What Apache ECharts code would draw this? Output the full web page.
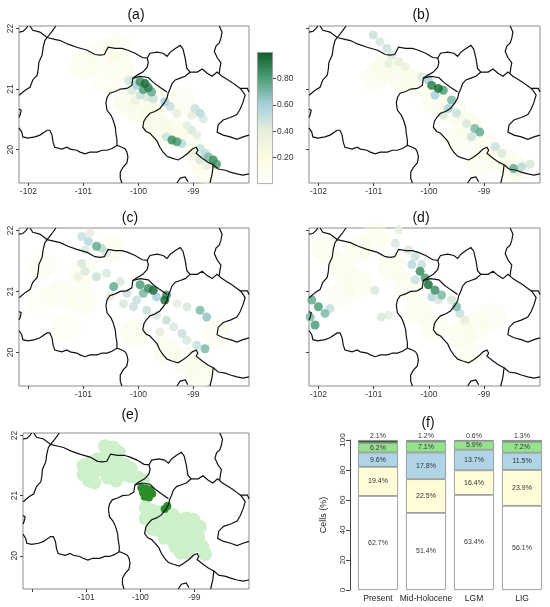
<!DOCTYPE html>
<html>
<head>
<meta charset="utf-8">
<script src="https://cdn.jsdelivr.net/npm/echarts@6/dist/echarts.min.js"></script>
<style>
html, body { margin: 0; padding: 0; background: #fff; }
#main { width: 550px; height: 607px; }
</style>
</head>
<body>
<div id="main"></div>
<script>
// state borders, [lon, lat]
var bndA = [[-102.17,21.94],[-102.10,21.95],[-102.04,22.00],[-102.01,22.04]];
var bndB = [[-101.97,22.04],[-101.92,21.97],[-101.79,21.94],[-101.66,21.85],[-101.57,21.95],[-101.50,22.04]];
var bndC = [[-101.66,21.85],[-101.70,21.80],[-101.73,21.69],[-101.75,21.56],[-101.81,21.44],[-101.82,21.33],[-101.84,21.23],[-101.92,21.15],[-101.97,21.03],[-102.06,20.98],[-102.15,20.91],[-102.17,20.90]];
var bndD = [[-102.17,20.67],[-102.13,20.65],[-102.15,20.57],[-102.17,20.53]];
var bndE = [[-101.66,21.85],[-101.52,21.82],[-101.42,21.80],[-101.28,21.74],[-101.12,21.69],[-100.93,21.64],[-100.79,21.57],[-100.70,21.56],[-100.62,21.57],[-100.55,21.69],[-100.42,21.67],[-100.30,21.67],[-100.19,21.64],[-100.06,21.59],[-99.93,21.52],[-99.84,21.51],[-99.79,21.59],[-99.66,21.61],[-99.55,21.59],[-99.48,21.54],[-99.42,21.61],[-99.33,21.67],[-99.24,21.72],[-99.19,21.66],[-99.15,21.51],[-99.12,21.34],[-99.06,21.28],[-98.93,21.28],[-98.84,21.33],[-98.75,21.26],[-98.66,21.21],[-98.57,21.28],[-98.48,21.21],[-98.39,21.16],[-98.30,21.11],[-98.21,21.05],[-98.15,21.01],[-98.02,21.01],[-97.99,20.95]];
var bndF = [[-102.17,20.36],[-102.12,20.29],[-102.10,20.21],[-102.01,20.19],[-101.88,20.21],[-101.79,20.24],[-101.66,20.32],[-101.61,20.32],[-101.57,20.24],[-101.55,20.12],[-101.52,20.04],[-101.39,20.01],[-101.30,20.04],[-101.24,20.01],[-101.12,19.99],[-101.06,19.96],[-100.97,19.93],[-100.88,19.96],[-100.75,19.96],[-100.66,19.99],[-100.57,19.99],[-100.48,20.02],[-100.39,20.07]];
var bndG = [[-99.84,21.51],[-99.82,21.44],[-99.84,21.36],[-99.92,21.28],[-100.02,21.23],[-100.10,21.18],[-100.12,21.06],[-100.21,21.01],[-100.33,21.00],[-100.42,20.96],[-100.52,20.93],[-100.57,20.86],[-100.59,20.77],[-100.57,20.65],[-100.50,20.57],[-100.46,20.49],[-100.42,20.37],[-100.41,20.27],[-100.39,20.16],[-100.39,20.07],[-100.30,20.04],[-100.24,20.01],[-100.21,19.96],[-100.19,19.88],[-100.21,19.78],[-100.28,19.71],[-100.33,19.63],[-100.33,19.53],[-100.30,19.45]];
var bndX = [[-100.10,21.18],[-99.97,21.21],[-99.82,21.19],[-99.73,21.11],[-99.61,21.03],[-99.48,20.95]];
var bndH = [[-99.06,21.28],[-99.15,21.21],[-99.24,21.18],[-99.33,21.15],[-99.39,21.09],[-99.42,21.01],[-99.46,20.93],[-99.48,20.85],[-99.53,20.77],[-99.61,20.68],[-99.70,20.63],[-99.79,20.60],[-99.86,20.53],[-99.90,20.47],[-99.92,20.37],[-99.86,20.30],[-99.79,20.27],[-99.73,20.21],[-99.66,20.14],[-99.61,20.04],[-99.55,19.96],[-99.48,19.89],[-99.39,19.86],[-99.28,19.83],[-99.19,19.88],[-99.10,19.94],[-99.02,20.01],[-98.95,20.04],[-98.92,19.99],[-98.95,19.94],[-98.84,19.86],[-98.73,19.79],[-98.64,19.75],[-98.55,19.68],[-98.42,19.66],[-98.33,19.63],[-98.21,19.60],[-98.10,19.58],[-97.99,19.60]];
var bndI = [[-98.15,21.01],[-98.12,20.98],[-98.06,20.90],[-98.10,20.78],[-98.15,20.67],[-98.21,20.58],[-98.33,20.53],[-98.46,20.49],[-98.55,20.41],[-98.57,20.29],[-98.46,20.24],[-98.33,20.21],[-98.21,20.17],[-98.10,20.21],[-97.99,20.24]];
var bndJ = [[-98.53,22.04],[-98.48,21.94],[-98.50,21.84],[-98.53,21.76],[-98.59,21.71],[-98.62,21.62],[-98.57,21.52],[-98.50,21.43],[-98.52,21.34],[-98.53,21.26]];
var bndK = [[-99.30,19.45],[-99.24,19.53],[-99.15,19.55],[-99.10,19.47]];
var bndL = [[-98.64,19.75],[-98.66,19.60],[-98.70,19.45]];
var borders = [bndA, bndB, bndC, bndD, bndE, bndF, bndG, bndX, bndH, bndI, bndJ, bndK, bndL];

// suitability, [lon, lat, value]
var hazeA = [[-101.0,21.39,0.2],[-100.70,21.58,0.18],[-100.39,21.69,0.18],[-100.33,21.36,0.2],[-100.58,21.14,0.15],[-100.21,20.81,0.22],[-99.97,20.65,0.22],[-99.73,20.54,0.22],[-99.61,20.32,0.22],[-99.36,20.27,0.22],[-99.12,20.16,0.22],[-98.88,19.88,0.22],[-98.76,19.66,0.2],[-99.67,20.81,0.2],[-99.24,20.81,0.18]];
var patchA = [[-99.97,21.12,0.85],[-99.88,21.09,0.95],[-99.82,21.02,0.9],[-99.91,20.99,0.8],[-99.76,20.95,0.75],[-100.03,21.06,0.6],[-100.09,21.14,0.5],[-100.18,21.14,0.45],[-100.12,20.98,0.45],[-99.97,20.90,0.5],[-99.85,20.87,0.45],[-99.73,20.84,0.5],[-100.06,20.81,0.35],[-99.52,20.79,0.6],[-99.42,20.71,0.5],[-99.30,20.60,0.4],[-98.97,20.68,0.5],[-98.88,20.60,0.55],[-98.82,20.51,0.45],[-99.03,20.57,0.4],[-99.12,20.40,0.4],[-99.03,20.32,0.45],[-98.94,20.24,0.4],[-99.39,20.16,0.85],[-99.30,20.13,0.8],[-99.21,20.10,0.55],[-99.49,20.21,0.5],[-98.88,20.02,0.5],[-98.79,19.94,0.55],[-98.73,19.88,0.7],[-98.64,19.83,0.85],[-98.58,19.76,0.8],[-98.88,19.83,0.45],[-98.76,19.74,0.4],[-99.03,19.94,0.35]];

var hazeB = [[-100.79,21.37,0.22],[-100.49,21.20,0.22],[-100.25,21.09,0.2],[-100.98,21.20,0.18],[-99.89,20.82,0.22],[-99.59,20.65,0.22],[-99.29,20.38,0.22],[-98.99,20.05,0.22],[-98.68,19.83,0.22],[-98.44,19.72,0.2],[-99.47,20.16,0.18],[-99.11,19.77,0.18]];
var patchB = [[-101.01,21.89,0.5],[-100.89,21.78,0.45],[-100.76,21.67,0.5],[-100.67,21.56,0.45],[-100.73,21.42,0.4],[-100.55,21.45,0.4],[-100.43,21.37,0.35],[-99.95,21.06,0.9],[-99.83,21.01,0.95],[-99.74,20.98,0.8],[-100.01,21.15,0.6],[-99.89,20.90,0.6],[-100.13,21.20,0.45],[-99.59,20.82,0.7],[-99.65,20.68,0.6],[-99.50,20.60,0.5],[-99.74,20.57,0.45],[-99.32,20.43,0.45],[-99.17,20.35,0.7],[-99.08,20.29,0.75],[-99.23,20.21,0.5],[-98.80,20.05,0.5],[-98.68,19.94,0.45],[-98.47,19.69,0.75],[-98.32,19.72,0.55],[-98.17,19.76,0.45],[-98.38,19.63,0.4]];

var hazeC = [[-101.73,21.41,0.18],[-101.42,20.97,0.18],[-101.0,20.86,0.2],[-100.09,20.31,0.22],[-99.49,20.03,0.22],[-99.12,19.87,0.22],[-98.88,19.65,0.22],[-98.58,20.31,0.18],[-101.30,20.42,0.15],[-101.79,20.86,0.15],[-101.0,21.30,0.2],[-100.52,21.68,0.2]];
var patchC = [[-101.03,21.90,0.5],[-100.91,21.82,0.55],[-100.76,21.74,0.75],[-100.67,21.71,0.55],[-100.97,21.68,0.45],[-100.58,21.63,0.45],[-100.88,21.96,0.4],[-101.03,21.46,0.45],[-100.97,21.33,0.45],[-100.76,21.24,0.5],[-100.58,21.30,0.45],[-100.45,21.08,0.75],[-100.33,21.16,0.45],[-100.21,20.97,0.5],[-100.52,20.91,0.4],[-100.27,20.80,0.45],[-100.09,20.75,0.5],[-101.09,21.24,0.35],[-99.97,21.11,0.8],[-99.82,21.05,0.85],[-99.73,21.02,0.95],[-99.91,20.97,0.7],[-99.67,20.91,0.6],[-99.52,20.86,0.95],[-99.49,20.94,0.85],[-100.03,20.86,0.5],[-99.85,20.69,0.5],[-99.67,20.61,0.45],[-99.49,20.53,0.5],[-99.36,20.42,0.45],[-99.21,20.31,0.5],[-99.12,20.20,0.45],[-98.94,20.12,0.5],[-98.79,20.06,0.7],[-98.88,20.69,0.7],[-98.76,20.58,0.65],[-99.12,20.75,0.45],[-99.30,20.80,0.4],[-99.61,20.34,0.4]];

var hazeD = [[-101.88,21.68,0.2],[-101.58,21.41,0.2],[-101.28,21.68,0.2],[-100.98,21.90,0.2],[-101.28,21.13,0.2],[-101.58,20.97,0.18],[-100.19,20.69,0.2],[-99.89,20.42,0.2],[-99.41,20.31,0.2],[-99.17,20.42,0.2],[-98.86,20.58,0.18],[-99.29,19.98,0.18],[-100.37,21.08,0.22],[-100.67,21.41,0.22]];
var patchD = [[-100.55,22.01,0.4],[-100.61,21.79,0.45],[-100.37,21.68,0.45],[-100.25,21.57,0.5],[-100.31,21.44,0.55],[-100.13,21.44,0.5],[-100.16,21.33,0.85],[-100.07,21.22,0.8],[-100.01,21.11,0.95],[-99.89,21.02,0.85],[-99.77,20.94,0.7],[-99.95,20.91,0.55],[-99.83,20.86,0.45],[-100.25,21.19,0.5],[-100.98,21.02,0.45],[-102.12,20.86,0.75],[-102.0,20.75,0.8],[-101.88,20.64,0.7],[-102.06,20.45,0.8],[-102.15,20.58,0.7],[-101.79,20.72,0.5],[-100.86,20.58,0.45],[-100.73,20.61,0.4],[-99.50,20.75,0.7],[-99.44,20.64,0.5],[-99.35,20.53,0.4],[-99.59,20.86,0.45]];

// consensus map (e), [lon, lat]
var lightE = [[-100.65,21.82],[-100.50,21.80],[-100.40,21.72],
    [-101.05,21.50],[-100.92,21.55],[-100.80,21.60],[-100.68,21.62],[-100.55,21.62],[-100.42,21.58],[-100.30,21.52],[-100.18,21.45],
    [-101.05,21.35],[-100.92,21.40],[-100.80,21.42],[-100.68,21.45],[-100.55,21.45],[-100.42,21.40],[-100.30,21.35],[-100.18,21.32],[-100.05,21.30],[-99.95,21.25],
    [-100.95,21.25],[-100.85,21.22],[-100.60,21.30],[-100.45,21.25],
    [-99.90,20.80],[-99.78,20.75],[-99.65,20.72],[-99.52,20.70],[-99.40,20.68],
    [-99.90,20.62],[-99.78,20.58],[-99.65,20.55],[-99.52,20.55],[-99.40,20.55],[-99.28,20.60],[-99.15,20.62],[-99.02,20.60],
    [-99.78,20.45],[-99.65,20.42],[-99.52,20.42],[-99.40,20.40],[-99.28,20.40],[-99.15,20.42],[-99.02,20.45],[-98.90,20.48],
    [-99.55,20.30],[-99.42,20.28],[-99.30,20.28],[-99.18,20.28],[-99.05,20.30],[-98.93,20.32],
    [-99.35,20.15],[-99.22,20.15],[-99.10,20.15],[-98.98,20.18],[-98.85,20.15],
    [-99.25,20.05],[-99.12,20.05],[-98.80,20.03]];
var darkE = [[-99.98,21.13],[-99.90,21.12],[-99.82,21.10],[-99.95,21.05],[-99.87,21.04],[-99.78,21.03],[-99.92,20.98],[-99.84,20.97],[-99.55,20.78],[-99.50,20.83]];

// bar chart (f)
var periods = ['Present', 'Mid-Holocene', 'LGM', 'LIG'];
var cellsLow = [62.7, 51.4, 63.4, 56.1];
var cellsMid = [19.4, 22.5, 16.4, 23.9];
var cellsHigh = [9.6, 17.8, 13.7, 11.5];
var cellsVeryHigh = [6.2, 7.1, 5.9, 7.2];
var cellsTop = [2.1, 1.2, 0.6, 1.3];

var lonTicks = [-102, -101, -100, -99];
var lonTicksShort = [-101, -100, -99];
var latTicks = [20, 21, 22];
var scaleTicks = [0.2, 0.4, 0.6, 0.8];
var scaleBar = [1];

var lonMin = -102.17, lonMax = -97.99, latMin = 19.45, latMax = 22.04;
var scaleColors = ['#ffffff', '#fbfbe2', '#e7efdc', '#a9d0dc', '#4d9f76', '#0c5e27'];
var font = 'Liberation Sans, Arial, sans-serif';

var panels = [
    { label: '(a)', grid: { left: 19, top: 26, width: 230, height: 157 }, tx: 136, ty: 15, lon: lonTicks, lat: true, haze: hazeA, patch: patchA },
    { label: '(b)', grid: { left: 309, top: 26, width: 231, height: 157 }, tx: 421, ty: 15, lon: lonTicks, lat: false, haze: hazeB, patch: patchB },
    { label: '(c)', grid: { left: 19, top: 228, width: 230, height: 158 }, tx: 130, ty: 218, lon: lonTicksShort, lat: true, haze: hazeC, patch: patchC },
    { label: '(d)', grid: { left: 309, top: 228, width: 231, height: 158 }, tx: 421, ty: 218, lon: lonTicks, lat: false, haze: hazeD, patch: patchD },
    { label: '(e)', grid: { left: 23, top: 433, width: 226, height: 156 }, tx: 130, ty: 415, lon: lonTicksShort, lat: true }
];

var grids = [], xAxes = [], yAxes = [], series = [], graphics = [], mappedSeries = [];

panels.forEach(function (p, i) {
    grids.push(Object.assign({ show: true, borderColor: '#8c8c8c', borderWidth: 1, backgroundColor: '#fff' }, p.grid));
    xAxes.push({
        gridIndex: i, type: 'value', min: lonMin, max: lonMax,
        axisLine: { show: false }, splitLine: { show: false },
        axisTick: { show: true, customValues: lonTicks, length: 3, lineStyle: { color: '#444' } },
        axisLabel: { customValues: p.lon, fontSize: 8.5, color: '#333', margin: 4, fontFamily: font }
    });
    yAxes.push({
        gridIndex: i, type: 'value', min: latMin, max: latMax,
        axisLine: { show: false }, splitLine: { show: false },
        axisTick: { show: true, customValues: latTicks, length: 3, lineStyle: { color: '#444' } },
        axisLabel: { show: p.lat, customValues: latTicks, rotate: 90, fontSize: 8.5, color: '#333', margin: 4, fontFamily: font }
    });
    graphics.push({ type: 'text', x: p.tx, y: p.ty, style: { text: p.label, fontSize: 14, fontFamily: font, fill: '#111', textAlign: 'center', textVerticalAlign: 'middle' } });

    if (p.haze) {
        mappedSeries.push(series.length);
        series.push({ type: 'scatter', xAxisIndex: i, yAxisIndex: i, data: p.haze, symbolSize: 28, itemStyle: { opacity: 0.45 }, silent: true, z: 1 });
        mappedSeries.push(series.length);
        series.push({
            type: 'scatter', xAxisIndex: i, yAxisIndex: i, silent: true, z: 2,
            data: p.patch.slice().sort(function (a, b) { return a[2] - b[2]; }),
            symbolSize: 9, itemStyle: { opacity: 0.85 }
        });
    } else {
        series.push({ type: 'scatter', xAxisIndex: i, yAxisIndex: i, data: lightE, symbolSize: 14, silent: true, z: 1, itemStyle: { color: '#cdf0ca', opacity: 1 } });
        series.push({ type: 'scatter', xAxisIndex: i, yAxisIndex: i, data: darkE, symbolSize: 8, silent: true, z: 2, itemStyle: { color: '#2a8d2a', opacity: 1 } });
    }

    series.push({
        type: 'lines', coordinateSystem: 'cartesian2d', xAxisIndex: i, yAxisIndex: i,
        polyline: true, silent: true, z: 5,
        lineStyle: { color: '#111', width: 1.2, opacity: 1 },
        data: borders.map(function (b) { return { coords: b }; })
    });
});

// colour scale of panel (a)
grids.push({ left: 257, top: 52, width: 16, height: 132 });
xAxes.push({ gridIndex: 5, type: 'category', data: [''], show: false });
yAxes.push({
    gridIndex: 5, type: 'value', position: 'right', min: 0, max: 1,
    axisLine: { show: false }, splitLine: { show: false },
    axisTick: { show: true, customValues: scaleTicks, length: 3, lineStyle: { color: '#444' } },
    axisLabel: { customValues: scaleTicks, fontSize: 8.5, color: '#333', margin: 4, fontFamily: font, formatter: function (v) { return v.toFixed(2); } }
});
series.push({
    type: 'bar', xAxisIndex: 5, yAxisIndex: 5, data: scaleBar, barWidth: '100%', silent: true,
    itemStyle: {
        borderColor: '#9a9a9a', borderWidth: 0.8,
        color: { type: 'linear', x: 0, y: 1, x2: 0, y2: 0, colorStops: scaleColors.map(function (c, k) { return { offset: k / (scaleColors.length - 1), color: c }; }) }
    }
});

// panel (f)
grids.push({ left: 354, top: 440, width: 192, height: 150 });
xAxes.push({
    gridIndex: 6, type: 'category', data: periods,
    axisLine: { show: false }, axisTick: { show: false },
    axisLabel: { interval: 0, fontSize: 8.5, color: '#222', margin: 4, fontFamily: font }
});
yAxes.push({
    gridIndex: 6, type: 'value', min: 0, max: 100, interval: 20, offset: 4,
    axisLine: { show: true, lineStyle: { color: '#444' } }, splitLine: { show: false },
    axisTick: { show: true, length: 4, lineStyle: { color: '#444' } },
    axisLabel: { rotate: 90, fontSize: 8, color: '#333', margin: 3, fontFamily: font },
    name: 'Cells (%)', nameLocation: 'middle', nameGap: 22, nameRotate: 90,
    nameTextStyle: { fontSize: 9, color: '#222', fontFamily: font }
});
graphics.push({ type: 'text', x: 428, y: 423, style: { text: '(f)', fontSize: 14, fontFamily: font, fill: '#111', textAlign: 'center', textVerticalAlign: 'middle' } });

var stackSets = [cellsLow, cellsMid, cellsHigh, cellsVeryHigh, cellsTop];
var stackColors = ['#ffffff', '#fffcd7', '#aed4e6', '#93e38d', '#1d6a1d'];
stackSets.forEach(function (d, k) {
    var last = k === stackSets.length - 1;
    series.push({
        type: 'bar', xAxisIndex: 6, yAxisIndex: 6, stack: 'cells', barWidth: 40, data: d, silent: true,
        itemStyle: { color: stackColors[k], borderColor: '#8a8a8a', borderWidth: 0.8 },
        label: {
            show: true, position: last ? 'top' : 'inside', distance: 0,
            fontSize: 7, color: '#333', fontFamily: font,
            formatter: function (p) { return p.value.toFixed(1) + '%'; }
        }
    });
});

var myChart = echarts.init(document.getElementById('main'));
myChart.setOption({
    animation: false,
    grid: grids,
    xAxis: xAxes,
    yAxis: yAxes,
    visualMap: {
        show: false, type: 'continuous', min: 0, max: 1, dimension: 2,
        seriesIndex: mappedSeries,
        inRange: { color: scaleColors }
    },
    graphic: graphics,
    series: series
});
</script>
</body>
</html>
